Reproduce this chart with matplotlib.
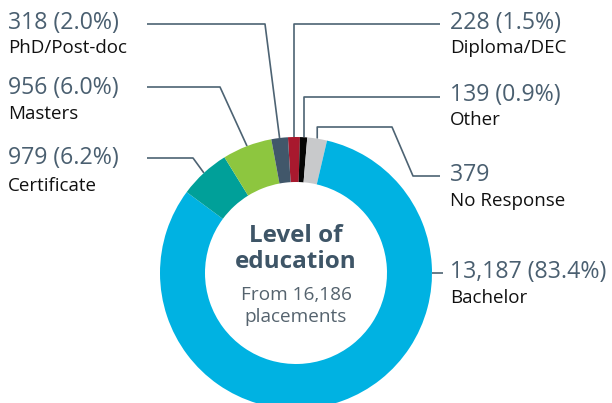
import numpy as np
import matplotlib.pyplot as plt

plt.rcParams['font.family'] = ['Open Sans', 'DejaVu Sans']

# data, clockwise from the top
labels = ['Diploma/DEC', 'Other', 'No Response', 'Bachelor', 'Certificate', 'Masters', 'PhD/Post-doc']
counts = [228, 139, 379, 13187, 979, 956, 318]
value_text = ['228 (1.5%)', '139 (0.9%)', '379', '13,187 (83.4%)', '979 (6.2%)', '956 (6.0%)', '318 (2.0%)']
colors = ['#A8192E', '#050505', '#C8C9CB', '#00B2E2', '#00A099', '#8DC63F', '#41576A']
total = 16186

W, H = 612, 403
fig = plt.figure(figsize=(W / 100, H / 100), dpi=100)
ax = fig.add_axes([0, 0, 1, 1])

cx, cy, R, ring = 296, H - 273, 136, 45
start = 93.4
ax.pie(counts, colors=colors, startangle=start, counterclock=False,
       radius=R, center=(cx, cy),
       wedgeprops=dict(width=ring, linewidth=0))
ax.set_xlim(0, W)
ax.set_ylim(0, H)
ax.set_aspect('equal')
ax.axis('off')

# anchor angle on the outer edge of each wedge
fr = np.array(counts) / sum(counts)
cum = np.concatenate([[0], np.cumsum(fr)])
mid = start - (cum[:-1] + fr / 2) * 360
mid[3] = 0  # Bachelor line leaves from the right edge

line_col = '#4D6373'
num_col = '#4A5F70'

# label layout: (text x, value line y, name line y, elbow points in image px)
layout = {
    'Diploma/DEC': (450, 23, 48, [(None, 24), (440, 24)]),
    'Other': (450, 95, 120, [(None, 97), (440, 97)]),
    'No Response': (450, 175, 201, [(None, 127), (392, 127), (413, 176), (440, 176)]),
    'Bachelor': (450, 272, 298, [(443, None)]),
    'Certificate': (8, 158, 186, [(193, 158), (147, 158)]),
    'Masters': (8, 88, 114, [(220, 87), (147, 87)]),
    'PhD/Post-doc': (8, 23, 48, [(265, 24), (147, 24)]),
}

for i, lab in enumerate(labels):
    tx, vy, ny, pts = layout[lab]
    a = np.deg2rad(mid[i])
    x0, y0 = cx + R * np.cos(a), cy + R * np.sin(a)
    xs, ys = [x0], [y0]
    for px, py in pts:
        xs.append(x0 if px is None else px)
        ys.append(y0 if py is None else H - py)
    ax.plot(xs, ys, color=line_col, lw=1.2, zorder=0, solid_capstyle='butt')
    ax.text(tx, H - vy, value_text[i], fontsize=16.7, color=num_col, ha='left', va='center')
    ax.text(tx, H - ny, lab, fontsize=13.5, color='#111111', ha='left', va='center')

ax.text(cx, H - 236, 'Level of', fontsize=17.5, fontweight='bold', color='#3E5567', ha='center', va='center')
ax.text(cx, H - 262, 'education', fontsize=17.5, fontweight='bold', color='#3E5567', ha='center', va='center')
ax.text(cx, H - 295, 'From {:,}'.format(total), fontsize=13.7, color='#55636E', ha='center', va='center')
ax.text(cx, H - 317, 'placements', fontsize=13.7, color='#55636E', ha='center', va='center')

fig.savefig('out.png', dpi=100)
